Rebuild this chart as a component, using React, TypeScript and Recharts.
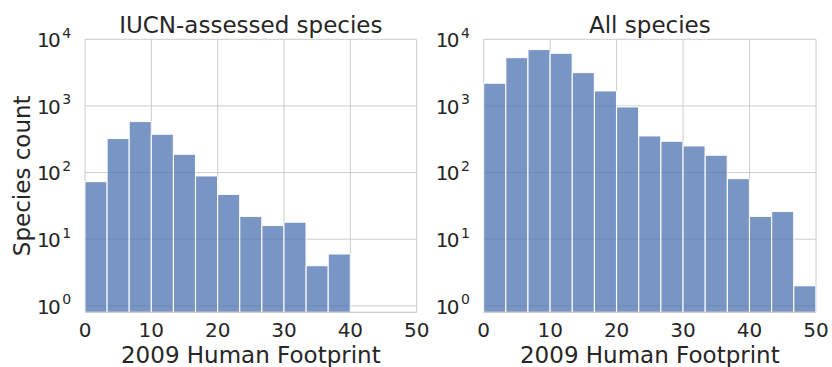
import React from "react";
import { BarChart, Bar, XAxis, YAxis, CartesianGrid } from "recharts";

// Histogram bins (width 10/3) — bin centres
const binCenters = [1.667, 5, 8.333, 11.667, 15, 18.333, 21.667, 25, 28.333, 31.667, 35, 38.333, 41.667, 45, 48.333];
// Species counts per bin
const iucnCounts = [73, 324, 582, 376, 188, 89, 47, 22, 16, 18, 4, 6];
const allCounts = [2190, 5300, 7000, 6170, 3160, 1680, 966, 355, 295, 251, 182, 81, 22, 26, 2];
const xTicks = [0, 10, 20, 30, 40, 50];
const yTicks = [1, 10, 100, 1000, 10000];
const yExponents = ["0", "1", "2", "3", "4"];
const titles = ["IUCN-assessed species", "All species"];
const xLabel = "2009 Human Footprint";
const yLabel = "Species count";

const FONT = "DejaVu Sans";
const TEXT = "#262626";
const GRID = "#cccccc";
const BAR = "#4C72B0";

const iucnData = iucnCounts.map((c, i) => ({ x: binCenters[i], count: c }));
const allData = allCounts.map((c, i) => ({ x: binCenters[i], count: c }));

const YTick = (props: any) => {
  const { x, y, payload } = props;
  const idx = yTicks.indexOf(payload.value);
  const exp = idx >= 0 ? yExponents[idx] : "";
  return (
    <text fill={TEXT} fontFamily={FONT}>
      <tspan x={x - 47.9} y={y + 7.7} fontSize={20} letterSpacing={-1.8}>10</tspan>
      <tspan x={x - 22.7} y={y - 1.6} fontSize={14}>{exp}</tspan>
    </text>
  );
};

const XTick = (props: any) => {
  const { x, y, payload } = props;
  return (
    <text x={x} y={y + 24.7} textAnchor="middle" fill={TEXT} fontFamily={FONT} fontSize={20}>
      {payload.value}
    </text>
  );
};

type PanelProps = {
  data: { x: number; count: number }[];
  title: string;
  width: number;
  yAxisWidth: number;
  marginRight: number;
  showYLabel: boolean;
};

const Panel = ({ data, title, width, yAxisWidth, marginRight, showYLabel }: PanelProps) => {
  const plotLeft = yAxisWidth;
  const plotRight = width - marginRight;
  const cx = (plotLeft + plotRight) / 2;
  return (
    <BarChart
      width={width}
      height={367}
      data={data}
      margin={{ top: 39.3, right: marginRight, bottom: 0, left: 0 }}
      barCategoryGap={0}
      barGap={0}
    >
      <CartesianGrid stroke={GRID} strokeWidth={1} />
      <XAxis
        dataKey="x"
        type="number"
        domain={[0, 50]}
        ticks={xTicks}
        height={54.7}
        tickSize={0}
        tickMargin={0}
        tickLine={false}
        axisLine={{ stroke: GRID, strokeWidth: 1 }}
        tick={<XTick />}
        interval={0}
      />
      <YAxis
        scale="log"
        domain={[0.8, 10000]}
        allowDataOverflow
        ticks={yTicks}
        width={yAxisWidth}
        tickSize={0}
        tickMargin={0}
        tickLine={false}
        axisLine={false}
        tick={<YTick />}
        interval={0}
      />
      <Bar
        dataKey="count"
        fill={BAR}
        fillOpacity={0.75}
        stroke="#ffffff"
        strokeWidth={1}
        isAnimationActive={false}
      />
      <text x={cx} y={32.5} textAnchor="middle" fill={TEXT} fontFamily={FONT} fontSize={23}>
        {title}
      </text>
      <text x={cx} y={363} textAnchor="middle" fill={TEXT} fontFamily={FONT} fontSize={23}>
        {xLabel}
      </text>
      {showYLabel && (
        <text
          transform="translate(29.5,175.8) rotate(-90)"
          x={0}
          y={0}
          textAnchor="middle"
          fill={TEXT}
          fontFamily={FONT}
          fontSize={23}
        >
          {yLabel}
        </text>
      )}
    </BarChart>
  );
};

export default function App() {
  return (
    <div
      style={{
        position: "absolute",
        left: 0,
        top: 0,
        width: 832,
        height: 367,
        background: "#ffffff",
        fontFamily: FONT,
      }}
    >
      <div style={{ position: "absolute", left: 0, top: 0 }}>
        <Panel data={iucnData} title={titles[0]} width={440} yAxisWidth={85} marginRight={23.3} showYLabel />
      </div>
      <div style={{ position: "absolute", left: 420, top: 0 }}>
        <Panel data={allData} title={titles[1]} width={412} yAxisWidth={63.7} marginRight={16} showYLabel={false} />
      </div>
    </div>
  );
}
